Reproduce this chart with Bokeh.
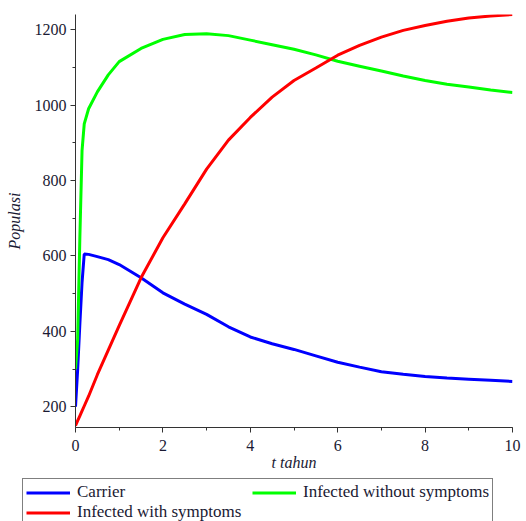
from bokeh.plotting import figure
from bokeh.models import Range1d, SingleIntervalTicker, Legend, LegendItem
from bokeh.layouts import column
from bokeh.embed import file_html
from bokeh.resources import INLINE

t = [0, 0.05, 0.1, 0.15, 0.2, 0.3, 0.5, 0.75, 1, 1.5, 2, 2.5, 3, 3.5, 4, 4.5,
     5, 5.5, 6, 6.5, 7, 7.5, 8, 8.5, 9, 9.5, 10]
carrier = [200, 300, 420, 530, 605, 604, 598, 590, 577, 542, 502, 472, 445, 412,
           385, 367, 352, 335, 318, 305, 293, 286, 280, 276, 273, 270, 267]
without_symptoms = [300, 380, 650, 880, 950, 990, 1035, 1080, 1115, 1150, 1174,
                    1187, 1189, 1184, 1172, 1160, 1148, 1133, 1116, 1103, 1090,
                    1077, 1065, 1055, 1048, 1040, 1033]
with_symptoms = [150, 163, 176, 189, 202, 228, 285, 350, 415, 542, 648, 738, 830,
                 907, 967, 1021, 1065, 1098, 1132, 1158, 1180, 1198, 1211, 1222,
                 1231, 1236, 1240]

labels = ["Carrier", "Infected without symptoms", "Infected with symptoms"]
colors = ["#0000FF", "#00FF00", "#FF0000"]
series = [carrier, without_symptoms, with_symptoms]
FONT = "Liberation Serif"
INK = "#1a1a33"

p = figure(width=526, height=478, output_backend="svg", toolbar_location=None,
           x_range=Range1d(0, 10), y_range=Range1d(145, 1240),
           min_border_left=75, min_border_right=14, min_border_top=14,
           min_border_bottom=51, frame_align=False)
p.outline_line_color = None
p.grid.visible = False

for ys, c in zip(series, colors):
    p.line(t, ys, line_color=c, line_width=3)

p.xaxis.ticker = SingleIntervalTicker(interval=2, num_minor_ticks=2)
p.yaxis.ticker = SingleIntervalTicker(interval=200, num_minor_ticks=2)
for ax in (p.xaxis, p.yaxis):
    ax.major_tick_in = 0
    ax.major_tick_out = 5
    ax.minor_tick_in = 0
    ax.minor_tick_out = 3
    ax.major_label_text_font = FONT
    ax.major_label_text_font_size = "16px"
    ax.major_label_text_color = INK
    ax.axis_label_text_font = FONT
    ax.axis_label_text_font_size = "16px"
    ax.axis_label_text_font_style = "italic"
    ax.axis_label_text_color = INK
    ax.axis_line_color = "#333333"
    ax.major_tick_line_color = "#333333"
    ax.minor_tick_line_color = "#333333"
p.xaxis.axis_label = "t tahun"
p.yaxis.axis_label = "Populasi"
p.xaxis.major_label_standoff = 7
p.xaxis.axis_label_standoff = 0
p.yaxis.major_label_standoff = 4
p.yaxis.axis_label_standoff = 9

# legend strip below the chart
lg = figure(width=526, height=43, output_backend="svg", toolbar_location=None,
            x_range=Range1d(100, 101), y_range=Range1d(0, 1),
            x_axis_location=None, y_axis_location=None,
            min_border_left=22, min_border_right=14, min_border_top=0,
            min_border_bottom=0, frame_align=False)
lg.outline_line_color = None
lg.grid.visible = False
rs = [lg.line(t, ys, line_color=c, line_width=3) for ys, c in zip(series, colors)]

legend = Legend(items=[LegendItem(label=labels[i], renderers=[rs[i]]) for i in range(3)],
                location="top_left", orientation="horizontal", ncols=2,
                padding=3, spacing=0, margin=0, label_height=19, glyph_height=19,
                glyph_width=44, label_standoff=7, label_width=175,
                border_line_color="black", border_line_width=1,
                label_text_font=FONT, label_text_color=INK,
                label_text_font_size="17px", background_fill_alpha=1)
lg.add_layout(legend, "center")

layout = column(p, lg, spacing=0)
open("out.html", "w").write(file_html(layout, INLINE))
